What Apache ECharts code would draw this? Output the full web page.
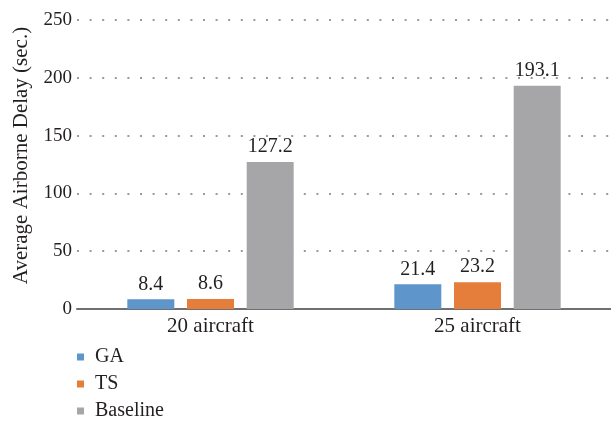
<!DOCTYPE html>
<html>
<head>
<meta charset="utf-8">
<script src="https://cdn.jsdelivr.net/npm/echarts@6/dist/echarts.min.js"></script>
<style>
  html, body { margin: 0; padding: 0; background: #fff; }
  #chart { width: 611px; height: 421px; }
</style>
</head>
<body>
<div id="chart"></div>
<script>
// Average airborne delay per scenario and method
const categories = ['20 aircraft', '25 aircraft'];
const gaValues = [8.4, 21.4];
const tsValues = [8.6, 23.2];
const baselineValues = [127.2, 193.1];
const yTicks = [0, 50, 100, 150, 200, 250];

const FONT = '"Liberation Serif", "DejaVu Serif", serif';
const TEXT = '#231f20';

function barSeries(name, data, color) {
  return {
    name: name,
    type: 'bar',
    data: data,
    barWidth: 47,
    barGap: '27%',
    itemStyle: { color: color },
    label: {
      show: true,
      position: 'top',
      distance: 5,
      color: TEXT,
      fontFamily: FONT,
      fontSize: 20
    }
  };
}

const chart = echarts.init(document.getElementById('chart'), null, { renderer: 'canvas' });
chart.setOption({
  animation: false,
  backgroundColor: '#ffffff',
  textStyle: { fontFamily: FONT, color: TEXT },
  grid: { left: 77, top: 20, width: 537, bottom: 112, containLabel: false },
  legend: {
    orient: 'vertical',
    left: 77,
    top: 347,
    height: 90,
    padding: 0,
    itemWidth: 7,
    itemHeight: 7,
    itemGap: 7,
    icon: 'rect',
    textStyle: { fontFamily: FONT, fontSize: 20, lineHeight: 20, color: TEXT, padding: [0, 0, 0, 6] },
    data: ['GA', 'TS', 'Baseline']
  },
  xAxis: {
    type: 'category',
    data: categories,
    axisLine: { lineStyle: { color: '#707070', width: 2 } },
    axisTick: { show: false },
    axisLabel: { color: TEXT, fontFamily: FONT, fontSize: 21, margin: 7 }
  },
  yAxis: {
    type: 'value',
    min: yTicks[0],
    max: yTicks[yTicks.length - 1],
    interval: yTicks[1] - yTicks[0],
    name: 'Average Airborne Delay (sec.)',
    nameLocation: 'middle',
    nameGap: 45,
    nameTextStyle: { color: TEXT, fontFamily: FONT, fontSize: 21, padding: [0, 0, 0, 18] },
    axisLine: { show: false },
    axisTick: { show: false },
    axisLabel: { color: TEXT, fontFamily: FONT, fontSize: 19, margin: 5 },
    splitLine: { lineStyle: { color: '#9a9a9a', width: 2, type: [2, 10.6] } }
  },
  series: [
    barSeries('GA', gaValues, '#5e96cb'),
    barSeries('TS', tsValues, '#e57e3b'),
    barSeries('Baseline', baselineValues, '#a6a6a9')
  ]
});
</script>
</body>
</html>
